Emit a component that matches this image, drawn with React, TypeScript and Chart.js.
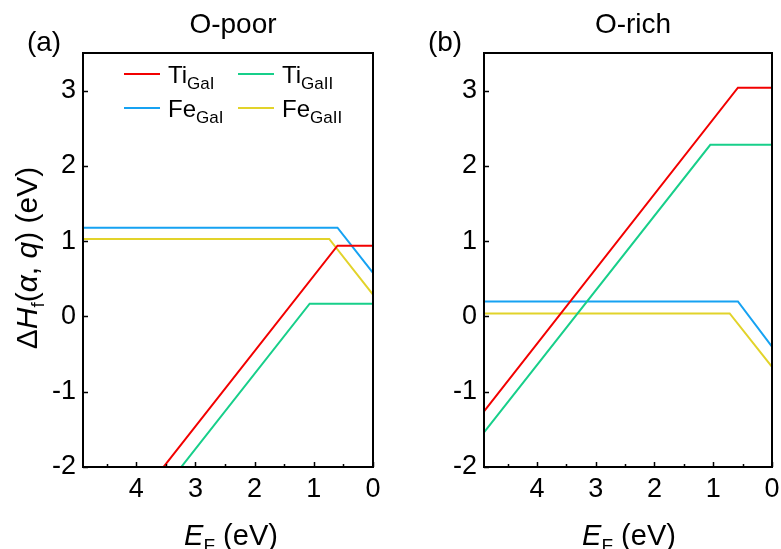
import React, { useEffect, useRef } from "react";
import { Chart, registerables } from "chart.js";

Chart.register(...registerables);

const FONT = '"Liberation Sans", Arial, sans-serif';

// Axis ranges and ticks
const EF_MIN = 0;
const EF_MAX = 4.9;
const H_MIN = -2;
const H_MAX = 3.5;
const xTickValues = [0, 1, 2, 3, 4];
const xTickLabels = ["0", "1", "2", "3", "4"];
const xMinorTickValues = [0.5, 1.5, 2.5, 3.5, 4.5];
const yTickValues = [-2, -1, 0, 1, 2, 3];
const yTickLabels = ["-2", "-1", "0", "1", "2", "3"];

// Series names (main + subscript)
const seriesMain = ["Ti", "Ti", "Fe", "Fe"];
const seriesSub = ["GaI", "GaII", "GaI", "GaII"];
const seriesColors = ["#f20000", "#17cf8a", "#16a2f2", "#e2d32a"];

// (a) O-poor : breakpoints of E_F (eV) and formation energy (eV)
const poorTiGaI_EF = [0, 0.6, 4.9];
const poorTiGaI_H = [0.94, 0.94, -3.36];
const poorTiGaII_EF = [0, 1.07, 4.9];
const poorTiGaII_H = [0.17, 0.17, -3.66];
const poorFeGaI_EF = [0, 0.6, 4.9];
const poorFeGaI_H = [0.58, 1.18, 1.18];
const poorFeGaII_EF = [0, 0.74, 4.9];
const poorFeGaII_H = [0.29, 1.03, 1.03];

// (b) O-rich
const richTiGaI_EF = [0, 0.58, 4.9];
const richTiGaI_H = [3.04, 3.04, -1.26];
const richTiGaII_EF = [0, 1.05, 4.9];
const richTiGaII_H = [2.28, 2.28, -1.54];
const richFeGaI_EF = [0, 0.58, 4.9];
const richFeGaI_H = [-0.4, 0.2, 0.2];
const richFeGaII_EF = [0, 0.72, 4.9];
const richFeGaII_H = [-0.67, 0.04, 0.04];

const poorSeries = [
  [poorTiGaI_EF, poorTiGaI_H],
  [poorTiGaII_EF, poorTiGaII_H],
  [poorFeGaI_EF, poorFeGaI_H],
  [poorFeGaII_EF, poorFeGaII_H],
];
const richSeries = [
  [richTiGaI_EF, richTiGaI_H],
  [richTiGaII_EF, richTiGaII_H],
  [richFeGaI_EF, richFeGaI_H],
  [richFeGaII_EF, richFeGaII_H],
];

type Seg = { t: string; it?: boolean; sub?: boolean };

function drawRich(
  ctx: CanvasRenderingContext2D,
  segs: Seg[],
  x: number,
  y: number,
  size: number,
  subSize: number,
  subDy: number,
  align: "left" | "center"
) {
  const fontFor = (s: Seg) =>
    `${s.it ? "italic " : ""}${s.sub ? subSize : size}px ${FONT}`;
  let total = 0;
  const widths = segs.map((s) => {
    ctx.font = fontFor(s);
    const w = ctx.measureText(s.t).width;
    total += w;
    return w;
  });
  let cx = align === "center" ? x - total / 2 : x;
  ctx.textAlign = "left";
  ctx.textBaseline = "alphabetic";
  segs.forEach((s, i) => {
    ctx.font = fontFor(s);
    ctx.fillText(s.t, cx, y + (s.sub ? subDy : 0));
    cx += widths[i];
  });
}

type PanelCfg = {
  series: number[][][];
  title: string;
  tag: string;
  yAxisWidth: number;
  padRight: number;
  showYTitle: boolean;
  showLegend: boolean;
  titleX: number;
  tagX: number;
  xTitleX: number;
};

function makeChart(canvas: HTMLCanvasElement, cfg: PanelCfg) {
  const decor = {
    id: "decor",
    afterDraw(chart: any) {
      const ctx: CanvasRenderingContext2D = chart.ctx;
      const { left, right, top, bottom } = chart.chartArea;
      const xs = chart.scales.x;
      const ys = chart.scales.y;
      ctx.save();
      ctx.fillStyle = "#000";
      ctx.strokeStyle = "#000";
      // frame
      ctx.lineWidth = 2;
      ctx.strokeRect(left, top, right - left, bottom - top);
      // ticks (inside)
      ctx.lineWidth = 1.5;
      ctx.beginPath();
      yTickValues.forEach((v) => {
        const py = Math.round(ys.getPixelForValue(v)) + 0.5;
        ctx.moveTo(left, py);
        ctx.lineTo(left + 5, py);
      });
      xTickValues.forEach((v) => {
        const px = Math.round(xs.getPixelForValue(v)) + 0.5;
        ctx.moveTo(px, bottom);
        ctx.lineTo(px, bottom - 5);
      });
      xMinorTickValues.forEach((v) => {
        const px = Math.round(xs.getPixelForValue(v)) + 0.5;
        ctx.moveTo(px, bottom);
        ctx.lineTo(px, bottom - 3);
      });
      ctx.stroke();

      // panel title and tag
      ctx.textAlign = "center";
      ctx.textBaseline = "alphabetic";
      ctx.font = `28px ${FONT}`;
      ctx.fillText(cfg.title, cfg.titleX, 33);
      ctx.font = `28px ${FONT}`;
      ctx.fillText(cfg.tag, cfg.tagX, 51);

      // x title
      drawRich(
        ctx,
        [{ t: "E", it: true }, { t: "F", sub: true }, { t: " (eV)" }],
        cfg.xTitleX,
        545,
        29,
        19,
        7,
        "center"
      );

      // y title
      if (cfg.showYTitle) {
        ctx.save();
        ctx.translate(37, 258);
        ctx.rotate(-Math.PI / 2);
        drawRich(
          ctx,
          [
            { t: "\u0394" },
            { t: "H", it: true },
            { t: "f", sub: true },
            { t: "(" },
            { t: "\u03b1", it: true },
            { t: ", " },
            { t: "q", it: true },
            { t: ") (eV)" },
          ],
          0,
          0,
          30,
          19,
          7,
          "center"
        );
        ctx.restore();
      }

      // legend
      if (cfg.showLegend) {
        const colX = [124, 238];
        const rowY = [74, 108];
        seriesMain.forEach((m, i) => {
          const c = i % 2;
          const r = Math.floor(i / 2);
          const lx = colX[c];
          const ly = rowY[r];
          ctx.strokeStyle = seriesColors[i];
          ctx.lineWidth = 2;
          ctx.beginPath();
          ctx.moveTo(lx, ly);
          ctx.lineTo(lx + 36, ly);
          ctx.stroke();
          ctx.fillStyle = "#000";
          drawRich(
            ctx,
            [{ t: m }, { t: seriesSub[i], sub: true }],
            lx + 44,
            ly + 9,
            24,
            17,
            6,
            "left"
          );
        });
      }
      ctx.restore();
    },
  };

  return new Chart(canvas, {
    type: "line",
    data: {
      datasets: cfg.series.map((s, i) => ({
        label: seriesMain[i] + seriesSub[i],
        data: s[0].map((x, j) => ({ x, y: s[1][j] })),
        borderColor: seriesColors[i],
        backgroundColor: seriesColors[i],
        borderWidth: 2,
        pointRadius: 0,
        fill: false,
        tension: 0,
      })),
    },
    options: {
      responsive: false,
      animation: false,
      events: [],
      layout: { padding: { left: 0, top: 53, right: cfg.padRight, bottom: 0 } },
      plugins: {
        legend: { display: false },
        tooltip: { enabled: false },
        title: { display: false },
      },
      scales: {
        x: {
          type: "linear",
          reverse: true,
          min: EF_MIN,
          max: EF_MAX,
          grid: { display: false, drawTicks: false },
          border: { display: false },
          afterBuildTicks: (s: any) => {
            s.ticks = xTickValues.map((v) => ({ value: v }));
          },
          afterFit: (s: any) => {
            s.height = 82;
          },
          ticks: {
            padding: 6,
            color: "#000",
            autoSkip: false,
            maxRotation: 0,
            font: { size: 27, family: FONT },
            callback: (_v: any, i: number) => xTickLabels[i],
          },
        },
        y: {
          type: "linear",
          min: H_MIN,
          max: H_MAX,
          grid: { display: false, drawTicks: false },
          border: { display: false },
          afterBuildTicks: (s: any) => {
            s.ticks = yTickValues.map((v) => ({ value: v }));
          },
          afterFit: (s: any) => {
            s.width = cfg.yAxisWidth;
          },
          ticks: {
            padding: 7,
            color: "#000",
            autoSkip: false,
            font: { size: 27, family: FONT },
            callback: (_v: any, i: number) => yTickLabels[i],
          },
        },
      },
    },
    plugins: [decor],
  } as any);
}

export default function App() {
  const leftRef = useRef<HTMLCanvasElement>(null);
  const rightRef = useRef<HTMLCanvasElement>(null);

  useEffect(() => {
    document.body.style.margin = "0";
    const a = makeChart(leftRef.current!, {
      series: poorSeries,
      title: "O-poor",
      tag: "(a)",
      yAxisWidth: 83,
      padRight: 17,
      showYTitle: true,
      showLegend: true,
      titleX: 233,
      tagX: 44,
      xTitleX: 231,
    });
    const b = makeChart(rightRef.current!, {
      series: richSeries,
      title: "O-rich",
      tag: "(b)",
      yAxisWidth: 94,
      padRight: 9,
      showYTitle: false,
      showLegend: false,
      titleX: 243,
      tagX: 55,
      xTitleX: 239,
    });
    return () => {
      a.destroy();
      b.destroy();
    };
  }, []);

  return (
    <div style={{ position: "relative", width: 781, height: 549, background: "#fff", overflow: "hidden" }}>
      <canvas
        ref={leftRef}
        width={390}
        height={549}
        style={{ position: "absolute", left: 0, top: 0, width: 390, height: 549 }}
      />
      <canvas
        ref={rightRef}
        width={391}
        height={549}
        style={{ position: "absolute", left: 390, top: 0, width: 391, height: 549 }}
      />
    </div>
  );
}
